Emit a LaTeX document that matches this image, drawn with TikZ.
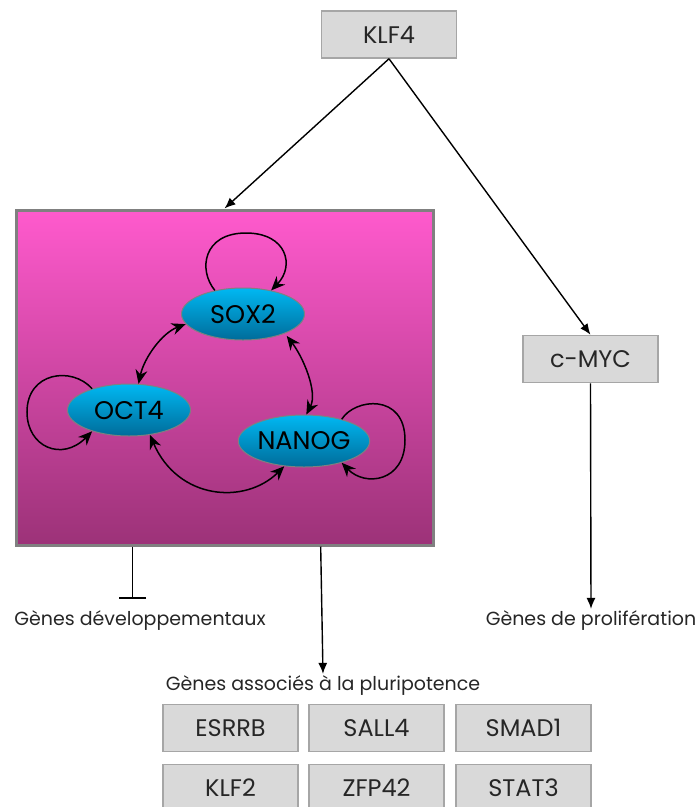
\documentclass[tikz,border=0pt]{standalone}
\usepackage{fontspec}
\setmainfont{Poppins}
\usetikzlibrary{shapes.geometric,arrows.meta,calc}

\definecolor{boxfill}{HTML}{D9D9D9}
\definecolor{boxline}{HTML}{A6A6A6}
\definecolor{coretop}{HTML}{FF5ACD}
\definecolor{corebot}{HTML}{9C3278}
\definecolor{coreline}{HTML}{808080}
\definecolor{tftop}{HTML}{00B8F2}
\definecolor{tfbot}{HTML}{006C9A}
\definecolor{txt}{HTML}{262626}

\tikzset{
  genebox/.style={draw=boxline, line width=1.5pt, fill=boxfill, minimum width=135pt,
    minimum height=47pt, inner sep=0pt, font=\fontsize{24}{28}\selectfont, text=txt},
  tf/.style={ellipse, draw=coreline, line width=1pt, top color=tftop, bottom color=tfbot,
    minimum width=123pt, minimum height=52pt, inner sep=0pt,
    font=\fontsize{25.5}{28}\selectfont, text=black},
  caption/.style={font=\fontsize{19}{22}\selectfont, text=txt, inner sep=2pt},
  act/.style={line width=1.4pt, -{Latex[length=11pt,width=9pt]}},
  loopact/.style={line width=1.5pt, -{Stealth[length=14pt,width=12pt]}},
  dual/.style={line width=1.5pt, {Stealth[length=14pt,width=12pt]}-{Stealth[length=14pt,width=12pt]}},
}

\begin{document}
\begin{tikzpicture}[x=1pt,y=-1pt]
\useasboundingbox (0,0) rectangle (697,807);

% regulators
\node[genebox] (klf4) at (389,34.5) {KLF4};
\node[genebox] (cmyc) at (590.5,359) {c-MYC};

% core pluripotency network
\node[draw=coreline, line width=3pt, top color=coretop, bottom color=corebot,
      minimum width=417pt, minimum height=335pt, inner sep=0pt] (core) at (224.5,377.5) {};

\node[tf] (sox) at (243,314) {SOX2};
\node[tf] (oct) at (129,410) {OCT4};
\node[tf] (nan) at (304,441) {NANOG};

% self-activation loops
\draw[loopact] (sox.140) .. controls (198,270) and (203,233) .. (246,233)
                        .. controls (287,233) and (295,266) .. (sox.40);
\draw[loopact] (oct.150) .. controls (72,366) and (27,372) .. (27,412)
                        .. controls (27,447) and (62,462) .. (oct.210);
\draw[loopact] (nan.30) .. controls (355,398) and (405,393) .. (405,440)
                       .. controls (405,482) and (365,487) .. (nan.330);

% mutual activation
\draw[dual] (sox.190) .. controls (162,333) and (144,358) .. (oct.70);
\draw[dual, shorten <=3pt] (sox.335) .. controls (303,357) and (318,392) .. (nan.85);
\draw[dual] (oct.310) .. controls (178,500) and (245,505) .. (nan.232);

% outputs
\node[caption] (dev) at (140,621) {Gènes développementaux};
\node[caption] (prolif) at (591,621) {Gènes de prolifération};
\node[caption] (pluri) at (323,686) {Gènes associés à la pluripotence};

\coordinate (coreA) at ($(core.south west)!0.281!(core.south east)$);
\coordinate (coreB) at ($(core.south west)!0.729!(core.south east)$);
\coordinate (devbar) at (coreA |- 0,599);

\draw[act] (klf4.south) -- (core.north);
\draw[act] (klf4.south) -- (cmyc.north);
\draw[act] (cmyc.south) -- (prolif.north);
\draw[line width=1.4pt, -{Bar[width=27pt,line width=1.6pt]}] (coreA) -- (devbar);
\draw[act] (coreB) -- (pluri.north -| 323,0);

% genes linked to pluripotency
\node[genebox] (esrrb) at (230.5,728) {ESRRB};
\node[genebox] (sall4) at (376.5,728) {SALL4};
\node[genebox] (smad1) at (523.5,728) {SMAD1};
\node[genebox] (klf2)  at (230.5,788) {KLF2};
\node[genebox] (zfp42) at (376.5,788) {ZFP42};
\node[genebox] (stat3) at (523.5,788) {STAT3};
\end{tikzpicture}
\end{document}
